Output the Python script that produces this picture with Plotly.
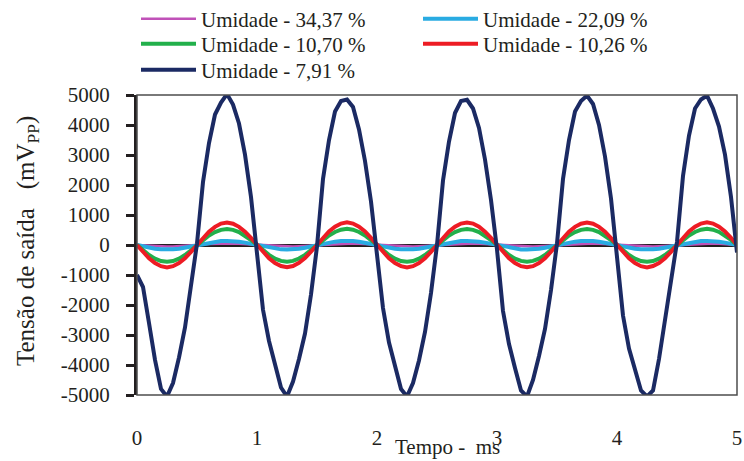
import plotly.graph_objects as go

# ---- data ----
time_ms = [round(i * 0.05, 2) for i in range(101)]

u_3437 = [0, -15, -30, -40, -48, -50, -48, -40, -30, -15, 0, 15, 30, 40, 48, 50, 48, 40, 30, 15,
          0, -15, -30, -40, -48, -50, -48, -40, -30, -15, 0, 15, 30, 40, 48, 50, 48, 40, 30, 15,
          0, -15, -30, -40, -48, -50, -48, -40, -30, -15, 0, 15, 30, 40, 48, 50, 48, 40, 30, 15,
          0, -15, -30, -40, -48, -50, -48, -40, -30, -15, 0, 15, 30, 40, 48, 50, 48, 40, 30, 15,
          0, -15, -30, -40, -48, -50, -48, -40, -30, -15, 0, 15, 30, 40, 48, 50, 48, 40, 30, 15, 0]

u_2209 = [0, -45, -90, -125, -145, -150, -145, -125, -90, -45, 0, 40, 80, 110, 130, 135, 130, 110, 80, 40,
          0, -45, -90, -125, -145, -152, -145, -125, -90, -45, 0, 40, 82, 112, 130, 138, 130, 110, 80, 40,
          0, -45, -92, -125, -145, -150, -145, -125, -90, -45, 0, 40, 80, 110, 130, 135, 130, 110, 80, 40,
          0, -45, -90, -125, -147, -152, -145, -125, -90, -45, 0, 40, 80, 112, 132, 138, 130, 110, 80, 40,
          0, -45, -90, -125, -145, -150, -145, -125, -90, -45, 0, 40, 80, 110, 130, 135, 130, 110, 80, 40, 0]

u_1070 = [0, -175, -335, -455, -535, -560, -535, -455, -335, -175, 0, 165, 315, 430, 505, 535, 505, 430, 315, 165,
          0, -170, -330, -455, -530, -555, -530, -450, -330, -170, 0, 165, 320, 435, 510, 540, 510, 435, 320, 165,
          0, -175, -335, -455, -535, -560, -535, -455, -335, -175, 0, 165, 315, 430, 505, 535, 505, 430, 315, 165,
          0, -175, -335, -455, -530, -555, -530, -455, -335, -170, 0, 165, 315, 430, 505, 535, 505, 430, 315, 165,
          0, -175, -335, -455, -535, -560, -535, -455, -335, -175, 0, 165, 320, 435, 510, 540, 510, 435, 320, 170, 0]

u_1026 = [0, -230, -440, -600, -705, -745, -705, -600, -440, -230, 0, 235, 445, 605, 715, 750, 710, 605, 445, 235,
          0, -225, -440, -600, -700, -740, -700, -595, -435, -225, 5, 235, 450, 610, 715, 755, 715, 610, 450, 235,
          0, -230, -445, -605, -705, -745, -705, -600, -440, -230, 0, 240, 450, 610, 715, 750, 715, 610, 445, 235,
          0, -230, -440, -600, -705, -740, -705, -600, -440, -225, 0, 235, 445, 605, 710, 750, 710, 605, 445, 230,
          0, -230, -440, -600, -705, -745, -700, -600, -440, -230, 0, 235, 450, 610, 715, 755, 715, 610, 450, 240, 0]

u_791 = [-1000, -1400, -2600, -3830, -4800, -5050, -4600, -3750, -2750, -1350,
         50, 2100, 3400, 4350, 4750, 5030, 4680, 4050, 3010, 1600,
         -250, -2160, -3200, -4000, -4750, -5050, -4550, -3800, -2950, -1650,
         -50, 2200, 3500, 4450, 4800, 4850, 4600, 3850, 2800, 1450,
         -200, -2100, -3250, -4050, -4800, -5050, -4600, -3850, -2900, -1600,
         0, 2150, 3450, 4400, 4800, 4840, 4550, 3900, 2850, 1500,
         -150, -2200, -3300, -4100, -4850, -5050, -4500, -3700, -2800, -1500,
         50, 2200, 3500, 4450, 4800, 4980, 4700, 4000, 2950, 1550,
         -350, -2350, -3450, -4150, -4850, -5050, -4850, -3800, -2600, -1200,
         100, 2300, 3650, 4550, 4850, 4980, 4550, 3950, 3010, 1600,
         -250]

series_names = ["Umidade - 34,37 %", "Umidade - 22,09 %", "Umidade - 10,70 %",
                "Umidade - 10,26 %", "Umidade - 7,91 %"]
series_values = [u_3437, u_2209, u_1070, u_1026, u_791]
series_colors = ["#c051b8", "#29abe2", "#22b04b", "#ed1c24", "#1b2a63"]
series_widths = [2.5, 4, 4, 4, 4]

x_ticks = [0, 1, 2, 3, 4, 5]
y_ticks = [-5000, -4000, -3000, -2000, -1000, 0, 1000, 2000, 3000, 4000, 5000]
y_tick_labels = ["-5000", "-4000", "-3000", "-2000", "-1000", "0",
                 "1000", "2000", "3000", "4000", "5000"]

FONT = "Liberation Serif, Times New Roman, serif"
TXT = "#231f20"
FS = 21

# legend slot for each series: (left px, row-centre px)
legend_slots = [(136, 19), (418, 19), (136, 44), (418, 44), (136, 70)]

fig = go.Figure()
legend_layout = {}
for i, (name, vals, col, w) in enumerate(zip(series_names, series_values,
                                             series_colors, series_widths)):
    key = "legend" if i == 0 else f"legend{i + 1}"
    fig.add_trace(go.Scatter(x=time_ms, y=vals, mode="lines", name=name,
                             line=dict(color=col, width=w), legend=key))
    lx, ly = legend_slots[i]
    legend_layout[key] = dict(x=lx / 744, y=1 - ly / 461, xref="container", yref="container",
                              xanchor="left", yanchor="middle", bgcolor="rgba(0,0,0,0)",
                              font=dict(family=FONT, size=FS, color=TXT),
                              itemwidth=55, borderwidth=0)

fig.update_layout(
    width=744, height=461,
    margin=dict(l=137, r=7, t=95, b=66, autoexpand=False),
    paper_bgcolor="white", plot_bgcolor="white",
    font=dict(family=FONT, size=FS, color=TXT),
    showlegend=True,
    xaxis=dict(range=[0, 5], tickvals=x_ticks, ticks="", showgrid=False,
               zeroline=False, showline=False, ticklabelstandoff=28,
               tickfont=dict(family=FONT, size=FS, color=TXT)),
    yaxis=dict(range=[-5000, 5000], tickvals=y_ticks, ticktext=y_tick_labels,
               ticks="outside", ticklen=8, tickwidth=2.5, tickcolor=TXT,
               showline=True, linewidth=3, linecolor=TXT,
               showgrid=False, zeroline=True, zerolinecolor=TXT,
               zerolinewidth=2.5, ticklabelstandoff=12,
               tickfont=dict(family=FONT, size=FS, color=TXT)),
    shapes=[dict(type="rect", xref="paper", yref="paper", x0=0, x1=1, y0=0, y1=1,
                 line=dict(color="#4d4d4d", width=1.5), layer="above")],
    annotations=[
        dict(text="Tempo -  ms", xref="paper", yref="paper",
             x=(447 - 137) / 600, y=(395 - 447) / 300,
             xanchor="center", yanchor="middle", showarrow=False,
             font=dict(family=FONT, size=FS, color=TXT)),
        dict(text="Tensão de saída   (mV<sub>PP</sub>)", xref="paper", yref="paper",
             x=(27 - 137) / 600, y=(395 - 241) / 300, textangle=-90,
             xanchor="center", yanchor="middle", showarrow=False,
             font=dict(family=FONT, size=25, color=TXT)),
    ],
    **legend_layout,
)

fig.write_html("out.html")
